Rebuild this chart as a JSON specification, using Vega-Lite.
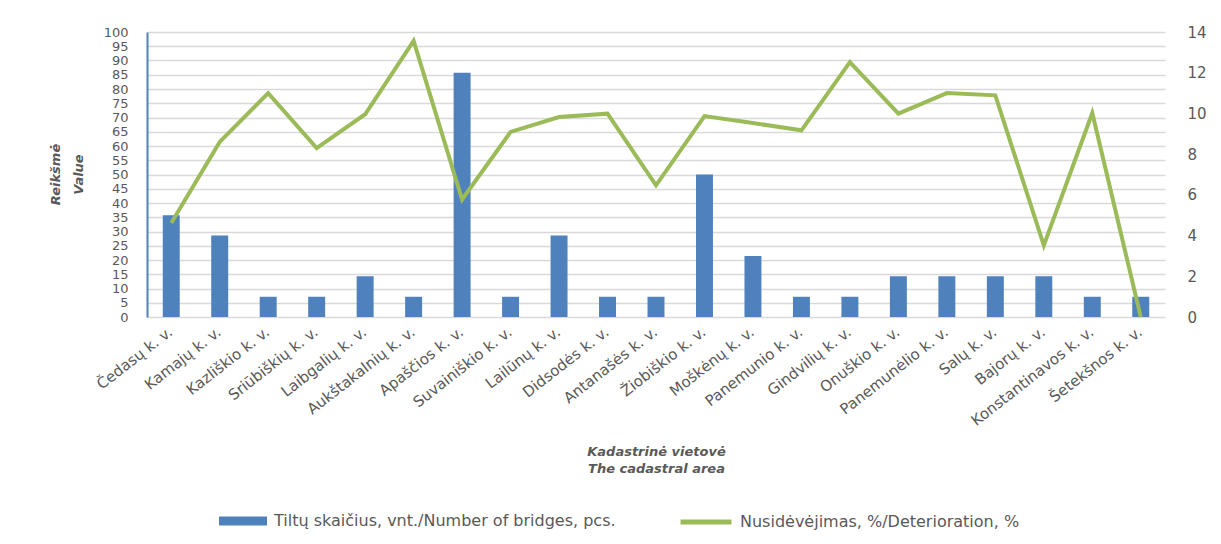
{
  "$schema": "https://vega.github.io/schema/vega-lite/v6.json",
  "autosize": {"type": "none"},
  "width": 1018,
  "height": 285,
  "padding": {"left": 147, "top": 32, "right": 56, "bottom": 227},
  "background": "white",
  "config": {
    "font": "DejaVu Sans",
    "view": {"stroke": null},
    "axis": {"labelColor": "#595959", "titleColor": "#595959", "labelFont": "DejaVu Sans", "titleFont": "DejaVu Sans"}
  },
  "data": {
    "values": [
      {"area": "Čedasų k. v.", "bridges": 35.7, "det": 4.62},
      {"area": "Kamajų k. v.", "bridges": 28.6, "det": 8.6},
      {"area": "Kazliškio k. v.", "bridges": 7.1, "det": 11.0},
      {"area": "Sriūbiškių k. v.", "bridges": 7.1, "det": 8.3},
      {"area": "Laibgalių k. v.", "bridges": 14.3, "det": 9.96},
      {"area": "Aukštakalnių k. v.", "bridges": 7.1, "det": 13.56},
      {"area": "Apaščios k. v.", "bridges": 85.7, "det": 5.77},
      {"area": "Suvainiškio k. v.", "bridges": 7.1, "det": 9.09},
      {"area": "Lailūnų k. v.", "bridges": 28.6, "det": 9.82},
      {"area": "Didsodės k. v.", "bridges": 7.1, "det": 9.99},
      {"area": "Antanašės k. v.", "bridges": 7.1, "det": 6.47},
      {"area": "Žiobiškio k. v.", "bridges": 50.0, "det": 9.87},
      {"area": "Moškėnų k. v.", "bridges": 21.4, "det": 9.53},
      {"area": "Panemunio k. v.", "bridges": 7.1, "det": 9.17},
      {"area": "Gindvilių k. v.", "bridges": 7.1, "det": 12.52},
      {"area": "Onuškio k. v.", "bridges": 14.3, "det": 9.99},
      {"area": "Panemunėlio k. v.", "bridges": 14.3, "det": 11.0},
      {"area": "Salų k. v.", "bridges": 14.3, "det": 10.89},
      {"area": "Bajorų k. v.", "bridges": 14.3, "det": 3.52},
      {"area": "Konstantinavos k. v.", "bridges": 7.1, "det": 10.02},
      {"area": "Šetekšnos k. v.", "bridges": 7.1, "det": 0}
    ]
  },
  "encoding": {
    "x": {
      "field": "area", "type": "nominal", "sort": null,
      "scale": {"paddingInner": 0.65, "paddingOuter": 0.325},
      "axis": {
        "title": ["Kadastrinė vietovė", "The cadastral area"],
        "titleFontStyle": "italic", "titleFontWeight": "bold", "titleFontSize": 13,
        "titleY": 128, "titleBaseline": "top", "titleLineHeight": 17,
        "labelAngle": -38, "labelAlign": "right", "labelBaseline": "top", "labelPadding": 7, "labelOffset": -5,
        "labelFontSize": 15, "labelLimit": 300,
        "ticks": false, "domain": false, "grid": false
      }
    }
  },
  "layer": [
    {
      "mark": {"type": "bar", "color": "#4F81BD"},
      "encoding": {
        "y": {
          "field": "bridges", "type": "quantitative",
          "scale": {"domain": [0, 100], "nice": false},
          "axis": {
            "values": [0,5,10,15,20,25,30,35,40,45,50,55,60,65,70,75,80,85,90,95,100],
            "title": ["Reikšmė", "Value"],
            "titleFontStyle": "italic", "titleFontWeight": "bold", "titleFontSize": 13,
            "titleX": -92, "titleY": 142, "titleAngle": -90, "titleAlign": "center", "titleBaseline": "middle", "titleLineHeight": 23,
            "grid": true, "gridColor": "#D9D9D9", "gridWidth": 1.5,
            "ticks": false, "labelPadding": 19, "labelFontSize": 13, "labelOverlap": false,
            "domain": true, "domainColor": "#4F81BD", "domainWidth": 2
          }
        },
        "fill": {
          "datum": "Tiltų skaičius, vnt./Number of bridges, pcs.",
          "type": "nominal",
          "scale": {"range": ["#4F81BD"]},
          "legend": {
            "orient": "none", "legendX": 72, "legendY": 465, "title": null,
            "symbolType": "M-1,-0.19H1V0.19H-1Z", "symbolSize": 2304, "symbolStrokeWidth": 0,
            "labelFontSize": 16, "labelColor": "#595959", "labelOffset": 7, "labelFont": "DejaVu Sans", "labelLimit": 500
          }
        }
      }
    },
    {
      "mark": {"type": "line", "color": "#9BBB59", "strokeWidth": 4},
      "encoding": {
        "y": {
          "field": "det", "type": "quantitative",
          "scale": {"domain": [0, 14], "nice": false},
          "axis": {
            "orient": "right", "values": [0,2,4,6,8,10,12,14], "title": null,
            "grid": false, "ticks": false, "domain": false, "labelPadding": 22, "labelAlign": "left", "labelFontSize": 15
          }
        },
        "stroke": {
          "datum": "Nusidėvėjimas, %/Deterioration, %",
          "type": "nominal",
          "scale": {"range": ["#9BBB59"]},
          "legend": {
            "orient": "none", "legendX": 531, "legendY": 462, "title": null,
            "symbolType": "stroke", "symbolSize": 2601, "symbolStrokeWidth": 5,
            "labelFontSize": 16, "labelColor": "#595959", "labelOffset": 6, "labelFont": "DejaVu Sans", "labelLimit": 500
          }
        }
      }
    }
  ],
  "resolve": {"scale": {"y": "independent", "fill": "independent", "stroke": "independent"}}
}
